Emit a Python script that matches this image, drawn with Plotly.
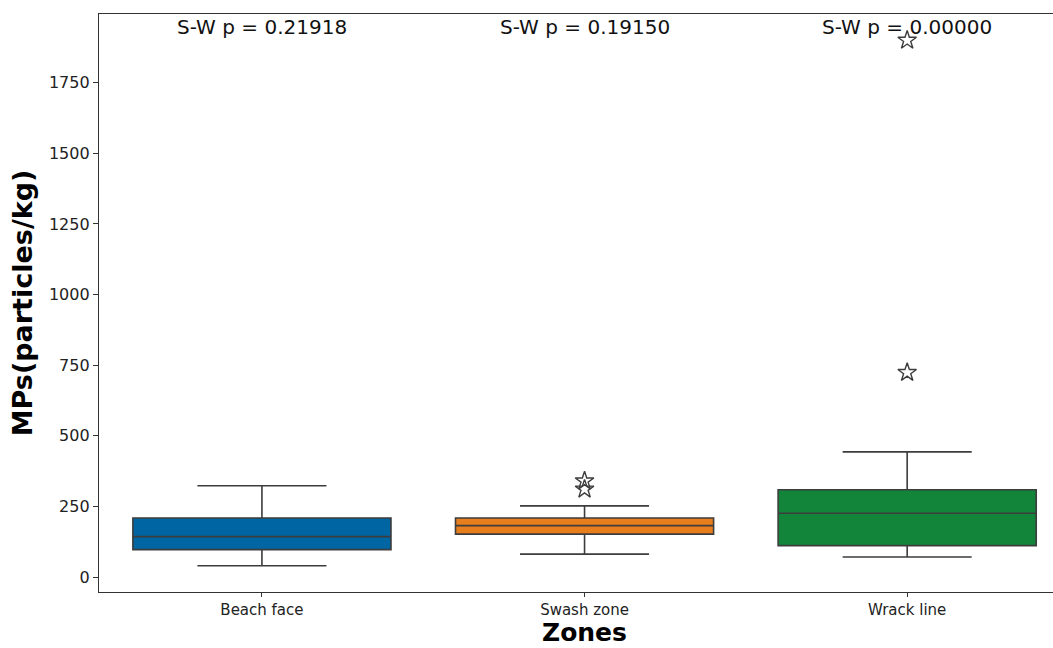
import plotly.graph_objects as go

# Zone categories and their box statistics (MPs, particles/kg)
zones = ["Beach face", "Swash zone", "Wrack line"]
q1 = [97, 152, 111]
median = [143, 182, 226]
q3 = [209, 209, 309]
lower_whisker = [40, 81, 71]
upper_whisker = [323, 252, 443]
fill_colors = ["#0065a3", "#e67e1e", "#12853a"]

# Outlying samples per zone
outlier_zone = [1, 1, 2, 2]
outlier_value = [340, 311, 724, 1900]

# Shapiro-Wilk p-values
sw_p = [0.21918, 0.19150, 0.00000]

positions = list(range(len(zones)))
edge = "#3d3d3d"

fig = go.Figure()
for i, name in enumerate(zones):
    fig.add_trace(go.Box(
        x=[positions[i]],
        q1=[q1[i]], median=[median[i]], q3=[q3[i]],
        lowerfence=[lower_whisker[i]], upperfence=[upper_whisker[i]],
        width=0.8, whiskerwidth=0.5,
        fillcolor=fill_colors[i],
        line=dict(color=edge, width=1.6),
        boxpoints=False, showlegend=False, name=name,
    ))

fig.add_trace(go.Scatter(
    x=[positions[z] for z in outlier_zone], y=outlier_value,
    mode="markers",
    marker=dict(symbol="star-open", size=14, color=edge, line=dict(width=1.4, color=edge)),
    showlegend=False,
))

for i, p in enumerate(sw_p):
    fig.add_annotation(
        x=positions[i], y=1946, xref="x", yref="y",
        text=f"S-W p = {p:.5f}", showarrow=False,
        font=dict(size=20, color="#111111"), yanchor="middle",
    )

# x-axis title anchored to the bottom edge of the figure
fig.add_annotation(
    x=1, y=-0.0969, xref="x", yref="paper",
    text="<b>Zones</b>", showarrow=False, borderpad=0,
    font=dict(size=25, color="black"), yanchor="bottom",
)

fig.update_layout(
    width=1053, height=648,
    margin=dict(l=99, r=0, t=14, b=56),
    plot_bgcolor="white", paper_bgcolor="white",
    font=dict(family="DejaVu Sans", color="#222222"),
)
fig.update_xaxes(
    range=[-0.505, 2.452], tickvals=positions, ticktext=zones,
    showline=True, mirror=True, linecolor="#333333", linewidth=1.3,
    ticks="outside", ticklen=4, tickcolor="#333333",
    showgrid=False, zeroline=False, tickfont=dict(size=15), automargin=False,
)
fig.update_yaxes(
    range=[-53, 1993], tickvals=[0, 250, 500, 750, 1000, 1250, 1500, 1750],
    showline=True, linecolor="#333333", linewidth=1.3,
    ticks="outside", ticklen=5, tickcolor="#333333",
    showgrid=False, zeroline=False, tickfont=dict(size=16), automargin=False,
    title=dict(text="<b>MPs(particles/kg)</b>", font=dict(size=27, color="black"), standoff=8),
)

fig.write_html("out.html")
